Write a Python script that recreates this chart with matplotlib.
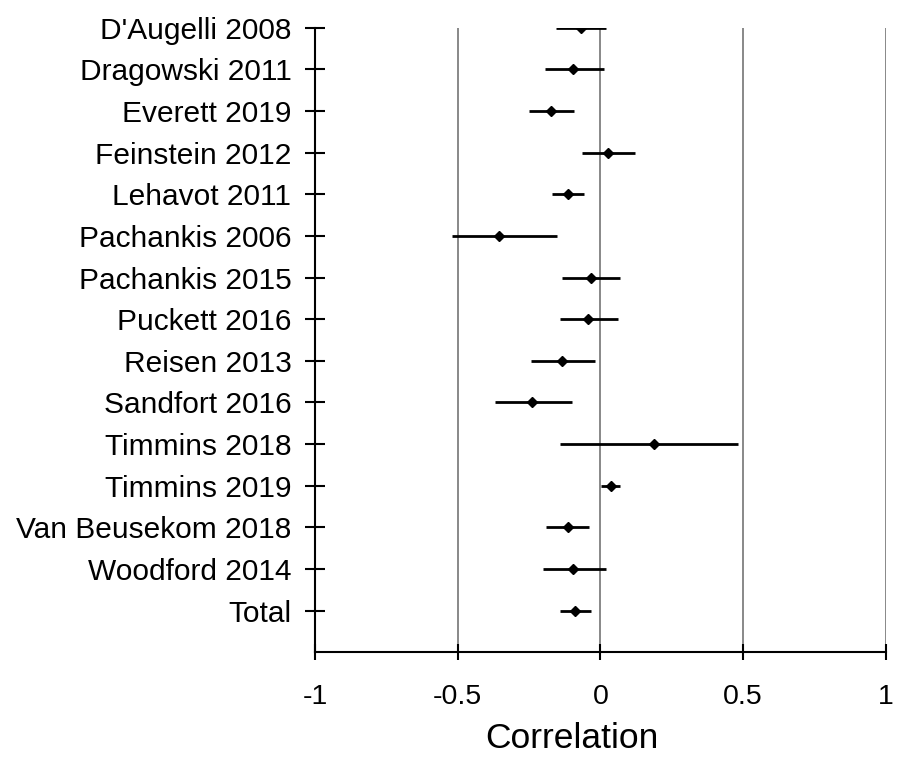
import matplotlib
matplotlib.use('Agg')
import matplotlib.pyplot as plt
import numpy as np

plt.rcParams['font.family'] = ['Liberation Sans', 'DejaVu Sans']

# studies (top to bottom)
studies = ["D'Augelli 2008", "Dragowski 2011", "Everett 2019", "Feinstein 2012",
           "Lehavot 2011", "Pachankis 2006", "Pachankis 2015", "Puckett 2016",
           "Reisen 2013", "Sandfort 2016", "Timmins 2018", "Timmins 2019",
           "Van Beusekom 2018", "Woodford 2014", "Total"]
# correlation estimates and confidence limits
r = [-0.067, -0.096, -0.174, 0.025, -0.114, -0.355, -0.034, -0.042,
     -0.135, -0.241, 0.186, 0.037, -0.115, -0.096, -0.089]
lower = [-0.157, -0.195, -0.249, -0.063, -0.169, -0.521, -0.136, -0.143,
         -0.242, -0.369, -0.143, 0.001, -0.190, -0.202, -0.143]
upper = [0.020, 0.013, -0.092, 0.120, -0.058, -0.153, 0.067, 0.060,
         -0.020, -0.099, 0.483, 0.067, -0.040, 0.020, -0.033]
xticks = [-1, -0.5, 0, 0.5, 1]

fig = plt.figure(figsize=(9, 7.62), dpi=100)
ax = fig.add_axes([0.35, 0.144, 0.6344, 0.8196])

n = len(studies)
y = np.arange(n, 0, -1)

# vertical reference lines
for xv in xticks[1:]:
    ax.axvline(xv, color='#7f7f7f', lw=1.3, zorder=1)

ax.hlines(y, lower, upper, color='black', lw=2, zorder=2)
ax.plot(r, y, 'D', color='black', markersize=5, zorder=3)

ax.set_xlim(-1, 1)
ax.set_ylim(0, n)
ax.set_yticks(y)
ax.set_yticklabels(studies, fontsize=21.5)
ax.set_xticks(xticks)
ax.set_xticklabels(['-1', '-0.5', '0', '0.5', '1'], fontsize=20.5)
ax.tick_params(axis='y', direction='inout', length=14, width=1.5, pad=10)
ax.tick_params(axis='x', direction='inout', length=12, width=1.5, pad=17)
ax.set_xlabel('Correlation', fontsize=25.5)
ax.xaxis.set_label_coords(0.45, -0.112)

for s in ['top', 'right']:
    ax.spines[s].set_visible(False)
for s in ['left', 'bottom']:
    ax.spines[s].set_linewidth(1.5)

fig.savefig('out.png', dpi=100)
